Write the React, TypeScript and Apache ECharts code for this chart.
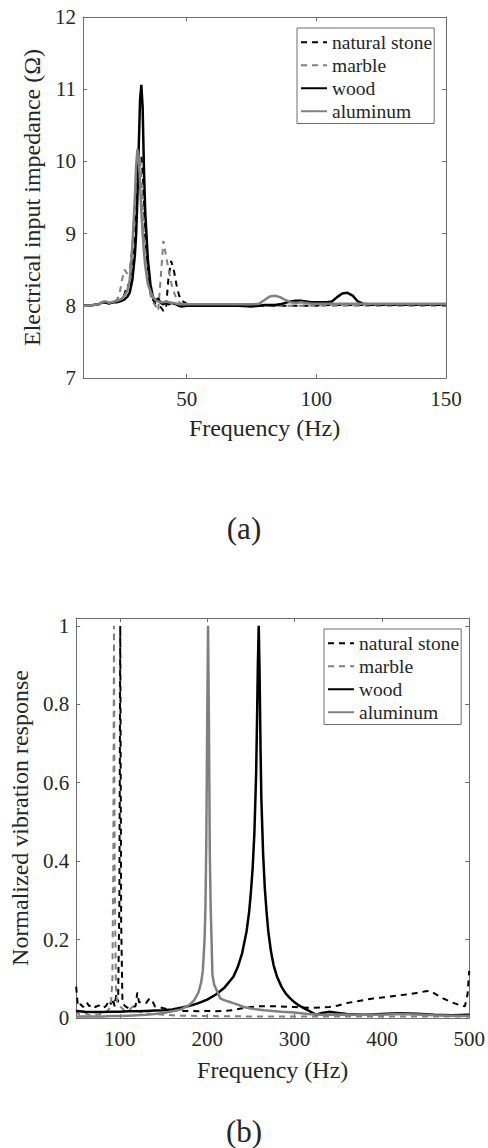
import React, { useEffect, useRef } from "react";
import * as echarts from "echarts";

// ---------- (a) electrical input impedance ----------
const freqA = [10, 12, 14, 16, 17, 18, 19, 20, 21, 22, 23, 24, 25, 26, 27, 28, 29, 30, 30.5, 31, 31.5, 32, 32.5, 33, 33.5, 34, 35, 36, 37, 38, 39, 40, 41, 42, 43, 44, 45, 46, 47, 48, 50, 52, 55, 60, 65, 70, 75, 78, 80, 82, 84, 86, 88, 90, 92, 94, 96, 98, 100, 102, 104, 106, 108, 110, 112, 114, 116, 118, 120, 125, 130, 135, 140, 145, 150];

const stoneA = [
  8.0, 8.0, 8.01, 8.02, 8.04, 8.05, 8.05, 8.04, 8.05, 8.05,
  8.06, 8.07, 8.1, 8.16, 8.28, 8.3, 8.45, 8.9, 9.3, 9.7,
  9.95, 10.05, 10.07, 9.85, 9.4, 8.95, 8.5, 8.2, 8.08, 8.03,
  8.02, 7.98, 7.93, 7.96, 8.4, 8.62, 8.5, 8.3, 8.15, 8.07,
  8.03, 8.01, 8.0, 8.0, 8.0, 8.0, 8.0, 8.0, 8.0, 8.0,
  8.0, 8.0, 8.0, 8.0, 8.0, 8.0, 8.0, 8.0, 8.0, 8.01,
  8.01, 8.01, 8.01, 8.01, 8.01, 8.01, 8.01, 8.01, 8.01, 8.01,
  8.01, 8.01, 8.01, 8.01, 8.01,
];

const marbleA = [
  8.0, 8.0, 8.01, 8.02, 8.04, 8.05, 8.05, 8.04, 8.05, 8.05,
  8.08, 8.15, 8.35, 8.5, 8.45, 8.5, 8.8, 9.4, 9.75, 10.0,
  10.1, 10.05, 9.8, 9.4, 9.0, 8.7, 8.35, 8.15, 8.05, 8.0,
  7.93, 8.4, 8.9, 8.7, 8.5, 8.32, 8.2, 8.1, 8.05, 8.03,
  8.02, 8.01, 8.0, 8.0, 8.0, 8.0, 8.0, 8.0, 8.0, 8.0,
  8.0, 8.0, 8.0, 8.0, 8.0, 8.0, 8.0, 8.0, 8.0, 8.0,
  8.0, 8.0, 8.0, 8.0, 8.0, 8.0, 8.0, 8.0, 8.0, 8.0,
  8.0, 8.0, 8.0, 8.0, 8.0,
];

const woodA = [
  8.0, 8.0, 8.01, 8.02, 8.04, 8.05, 8.04, 8.03, 8.04, 8.05,
  8.05, 8.06, 8.07, 8.09, 8.12, 8.18, 8.35, 8.7, 9.0, 9.5,
  10.2, 10.85, 11.06, 10.75, 9.9, 9.3, 8.65, 8.3, 8.12, 8.07,
  8.1, 8.04, 8.02, 8.06, 8.02, 8.04, 8.03, 8.02, 8.0, 7.99,
  8.0, 8.0, 8.0, 8.0, 8.0, 8.0, 7.99, 8.0, 8.01, 8.01,
  8.01, 8.02, 8.04, 8.06, 8.07, 8.07, 8.06, 8.05, 8.05, 8.05,
  8.05, 8.06, 8.12, 8.17, 8.18, 8.14, 8.06, 8.03, 8.02, 8.02,
  8.02, 8.02, 8.02, 8.02, 8.02,
];

const aluminumA = [
  8.0, 8.0, 8.01, 8.02, 8.04, 8.06, 8.06, 8.04, 8.05, 8.06,
  8.07, 8.08, 8.1, 8.14, 8.2, 8.35, 8.8, 9.5, 9.95, 10.17,
  10.05, 9.7, 9.3, 9.0, 8.75, 8.55, 8.3, 8.2, 8.12, 8.08,
  8.06, 8.05, 8.05, 8.06, 8.05, 8.04, 8.04, 8.03, 8.02, 8.02,
  8.02, 8.02, 8.02, 8.02, 8.02, 8.02, 8.02, 8.03, 8.08, 8.13,
  8.14, 8.12, 8.08, 8.05, 8.04, 8.05, 8.04, 8.03, 8.03, 8.03,
  8.03, 8.03, 8.03, 8.03, 8.03, 8.03, 8.03, 8.03, 8.03, 8.03,
  8.03, 8.03, 8.03, 8.03, 8.03,
];

const xTicksA = [50, 100, 150];
const yTicksA = [7, 8, 9, 10, 11, 12];

// ---------- (b) normalized vibration response ----------
const stoneFreqB = [50, 52, 55, 58, 62, 65, 68, 72, 76, 80, 84, 88, 90, 92, 94, 96, 98, 99.5, 100.5, 101.5, 103, 106, 110, 114, 118, 120, 122, 126, 130, 134, 137, 140, 145, 150, 155, 160, 170, 180, 190, 200, 210, 220, 230, 240, 250, 260, 270, 280, 290, 300, 310, 320, 330, 340, 350, 360, 370, 380, 390, 400, 410, 420, 430, 440, 450, 455, 460, 470, 480, 490, 495, 498, 500];
const stoneB = [0.08, 0.03, 0.035, 0.028, 0.04, 0.03, 0.035, 0.028, 0.032, 0.025, 0.03, 0.045, 0.035, 0.05, 0.03, 0.06, 0.04, 0.3, 1.0, 0.25, 0.04, 0.03, 0.025, 0.028, 0.03, 0.065, 0.04, 0.04, 0.038, 0.05, 0.045, 0.03, 0.028, 0.025, 0.022, 0.02, 0.018, 0.018, 0.017, 0.018, 0.017, 0.018, 0.02, 0.025, 0.028, 0.03, 0.03, 0.03, 0.029, 0.028, 0.027, 0.026, 0.027, 0.028, 0.032, 0.038, 0.042, 0.046, 0.05, 0.052, 0.055, 0.058, 0.06, 0.064, 0.068, 0.069, 0.063, 0.05, 0.04, 0.032, 0.03, 0.06, 0.12];

const marbleFreqB = [50, 53, 56, 60, 65, 70, 75, 80, 85, 88, 90, 91.5, 92.5, 93.3, 94.2, 95.5, 97, 100, 105, 110, 115, 118, 125, 130, 140, 150, 170, 200, 250, 300, 350, 400, 450, 500];
const marbleB = [0.02, 0.01, 0.008, 0.012, 0.008, 0.01, 0.008, 0.012, 0.015, 0.025, 0.04, 0.1, 0.4, 1.0, 0.35, 0.08, 0.04, 0.03, 0.02, 0.018, 0.03, 0.02, 0.015, 0.012, 0.01, 0.008, 0.006, 0.005, 0.004, 0.004, 0.004, 0.004, 0.004, 0.004];

const woodFreqB = [50, 60, 70, 80, 90, 100, 110, 120, 130, 140, 150, 160, 170, 180, 190, 200, 210, 220, 230, 235, 240, 245, 248, 250, 252, 254, 256, 257, 258, 259, 260, 261, 262, 264, 266, 268, 270, 273, 276, 280, 285, 290, 295, 300, 305, 310, 315, 320, 325, 330, 340, 350, 360, 380, 400, 420, 440, 460, 480, 500];
const woodB = [0.018, 0.016, 0.015, 0.015, 0.016, 0.016, 0.017, 0.017, 0.018, 0.019, 0.02, 0.022, 0.026, 0.031, 0.038, 0.047, 0.06, 0.078, 0.105, 0.13, 0.165, 0.22, 0.27, 0.32, 0.38, 0.47, 0.62, 0.75, 0.9, 1.0, 0.88, 0.7, 0.56, 0.42, 0.33, 0.27, 0.22, 0.17, 0.135, 0.105, 0.08, 0.062, 0.05, 0.04, 0.032, 0.026, 0.02, 0.014, 0.008, 0.012, 0.016, 0.013, 0.01, 0.008, 0.01, 0.012, 0.011, 0.008, 0.007, 0.008];

const aluminumFreqB = [50, 60, 70, 80, 90, 100, 110, 120, 130, 140, 150, 160, 170, 180, 185, 190, 193, 195, 197, 198, 199, 200, 201, 202, 203, 204, 205, 206, 208, 211, 215, 220, 227, 235, 242, 250, 265, 285, 300, 315, 330, 350, 380, 400, 420, 440, 460, 480, 500];
const aluminumB = [0.004, 0.004, 0.004, 0.004, 0.005, 0.005, 0.006, 0.007, 0.008, 0.01, 0.013, 0.017, 0.022, 0.034, 0.045, 0.065, 0.09, 0.12, 0.2, 0.28, 0.45, 0.75, 1.0, 0.75, 0.42, 0.28, 0.2, 0.11, 0.085, 0.07, 0.05, 0.045, 0.04, 0.034, 0.028, 0.024, 0.02, 0.016, 0.014, 0.01, 0.008, 0.009, 0.008, 0.008, 0.01, 0.009, 0.007, 0.006, 0.005];

const xTicksB = [100, 200, 300, 400, 500];
const yTicksB = [0, 0.2, 0.4, 0.6, 0.8, 1];

const seriesNames = ["natural stone", "marble", "wood", "aluminum"];

const FONT = "Liberation Serif";
const TEXT = "#262626";
const AXIS = "#6e6e6e";
const BLACK = "#000000";
const GRAY = "#808080";

const pair = (xs: number[], ys: number[]) => xs.map((x, i) => [x, ys[i]]);

function makeAxes(
  gridIndex: number,
  xMin: number,
  xMax: number,
  yMin: number,
  yMax: number,
  xTicks: number[],
  yTicks: number[],
  xName: string,
  yName: string,
  xGap: number,
  yGap: number
) {
  const lineStyle = { color: AXIS, width: 1 };
  const tick = (vals: number[]) => ({
    show: true,
    inside: true,
    length: 4,
    lineStyle,
    customValues: vals,
  });
  const xAxes = [
    {
      type: "value",
      gridIndex,
      min: xMin,
      max: xMax,
      position: "bottom",
      axisLine: { show: true, lineStyle, onZero: false },
      axisTick: tick(xTicks),
      axisLabel: {
        show: true,
        customValues: xTicks,
        fontFamily: FONT,
        fontSize: 21,
        color: TEXT,
        margin: 10,
      },
      splitLine: { show: false },
      name: xName,
      nameLocation: "middle",
      nameGap: xGap,
      nameTextStyle: { fontFamily: FONT, fontSize: 24, color: TEXT },
    },
    {
      type: "value",
      gridIndex,
      min: xMin,
      max: xMax,
      position: "top",
      axisLine: { show: true, lineStyle, onZero: false },
      axisTick: tick(xTicks),
      axisLabel: { show: false },
      splitLine: { show: false },
    },
  ];
  const yAxes = [
    {
      type: "value",
      gridIndex,
      min: yMin,
      max: yMax,
      position: "left",
      axisLine: { show: true, lineStyle, onZero: false },
      axisTick: tick(yTicks),
      axisLabel: {
        show: true,
        customValues: yTicks,
        fontFamily: FONT,
        fontSize: 21,
        color: TEXT,
        margin: 7,
      },
      splitLine: { show: false },
      name: yName,
      nameLocation: "middle",
      nameGap: yGap,
      nameTextStyle: { fontFamily: FONT, fontSize: 24, color: TEXT },
    },
    {
      type: "value",
      gridIndex,
      min: yMin,
      max: yMax,
      position: "right",
      axisLine: { show: true, lineStyle, onZero: false },
      axisTick: tick(yTicks),
      axisLabel: { show: false },
      splitLine: { show: false },
    },
  ];
  return { xAxes, yAxes };
}

function lineSeries(
  name: string,
  data: number[][],
  xAxisIndex: number,
  yAxisIndex: number,
  color: string,
  dashed: boolean,
  width: number
) {
  return {
    type: "line",
    name,
    data,
    xAxisIndex,
    yAxisIndex,
    showSymbol: false,
    symbol: "none",
    smooth: false,
    lineStyle: {
      color,
      width,
      type: dashed ? [6, 5] : "solid",
    },
    itemStyle: { color },
    emphasis: { disabled: true },
  };
}

function makeLegend(left: number, top: number) {
  return {
    orient: "vertical",
    left,
    top,
    backgroundColor: "#ffffff",
    borderColor: AXIS,
    borderWidth: 1,
    borderRadius: 0,
    padding: [3, 2, 1, 3],
    itemWidth: 26,
    itemHeight: 10,
    itemGap: 0.5,
    selectedMode: false,
    itemStyle: { opacity: 0 },
    textStyle: { fontFamily: FONT, fontSize: 19.5, color: TEXT, lineHeight: 22.5 },
    data: seriesNames,
  };
}

export default function App() {
  const ref = useRef<HTMLDivElement>(null);

  useEffect(() => {
    if (!ref.current) return;
    const chart = echarts.init(ref.current, undefined, { renderer: "svg" });

    const a = makeAxes(0, 10, 150, 7, 12, xTicksA, yTicksA, "Frequency (Hz)", "Electrical input impedance (Ω)", 38, 36);
    const b = makeAxes(1, 50, 500, 0, 1.02, xTicksB, yTicksB, "Frequency (Hz)", "Normalized vibration response", 40, 32);

    const option: any = {
      animation: false,
      backgroundColor: "#ffffff",
      title: [
        {
          text: "(a)",
          left: "center",
          top: 513,
          padding: 0,
          textStyle: { fontFamily: FONT, fontSize: 31, fontWeight: "normal", color: TEXT },
        },
        {
          text: "(b)",
          left: "center",
          top: 1116,
          padding: 0,
          textStyle: { fontFamily: FONT, fontSize: 31, fontWeight: "normal", color: TEXT },
        },
      ],
      grid: [
        { left: 83, top: 17, width: 363, height: 361, containLabel: false },
        { left: 69, top: 618, width: 402, height: 400, containLabel: false },
      ],
      legend: [makeLegend(297, 28), makeLegend(324, 629)],
      xAxis: [...a.xAxes, ...b.xAxes],
      yAxis: [...a.yAxes, ...b.yAxes],
      series: [
        lineSeries("natural stone", pair(freqA, stoneA), 0, 0, BLACK, true, 2),
        lineSeries("marble", pair(freqA, marbleA), 0, 0, GRAY, true, 2),
        lineSeries("wood", pair(freqA, woodA), 0, 0, BLACK, false, 2.5),
        lineSeries("aluminum", pair(freqA, aluminumA), 0, 0, GRAY, false, 2.5),
        lineSeries("natural stone", pair(stoneFreqB, stoneB), 2, 2, BLACK, true, 2),
        lineSeries("marble", pair(marbleFreqB, marbleB), 2, 2, GRAY, true, 2),
        lineSeries("wood", pair(woodFreqB, woodB), 2, 2, BLACK, false, 2.5),
        lineSeries("aluminum", pair(aluminumFreqB, aluminumB), 2, 2, GRAY, false, 2.5),
      ],
    };

    chart.setOption(option);
    return () => chart.dispose();
  }, []);

  return (
    <div
      ref={ref}
      style={{ position: "fixed", left: 0, top: 0, width: 488, height: 1148, background: "#fff" }}
    />
  );
}
